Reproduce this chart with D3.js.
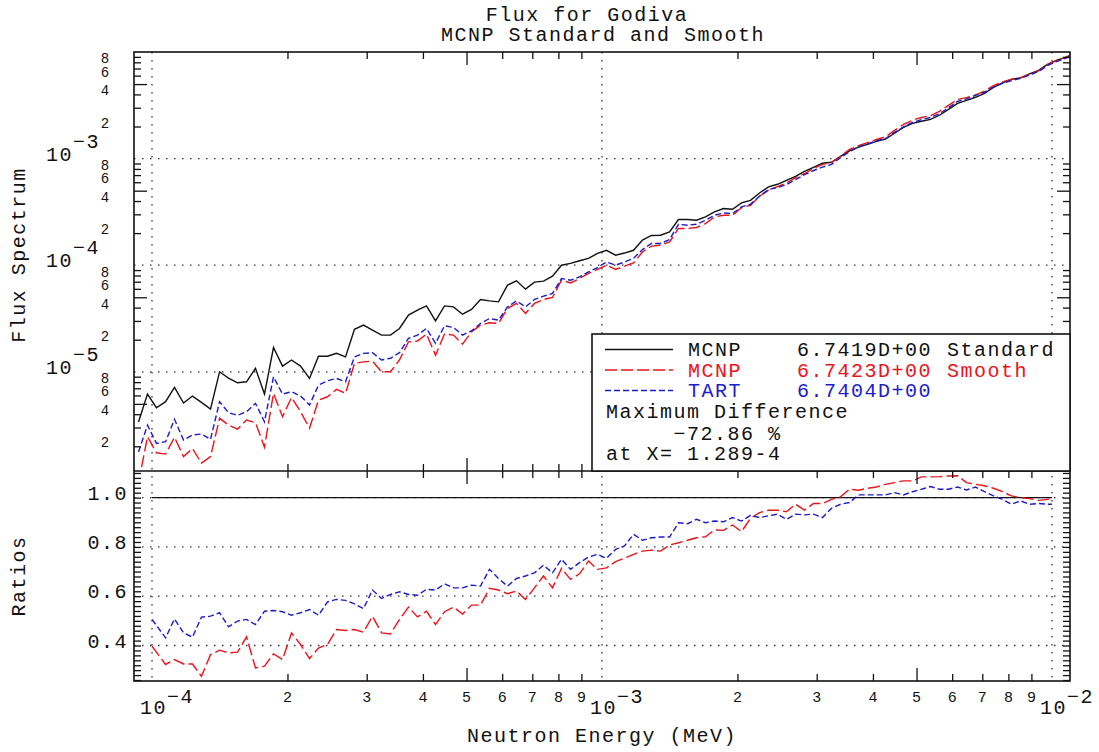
<!doctype html>
<html>
<head>
<script src="https://cdn.jsdelivr.net/npm/d3@7/dist/d3.min.js"></script>
<style>
body{margin:0;background:#fff}
text{font-family:"Liberation Mono","DejaVu Sans Mono",monospace;fill:#111}
.big{font-size:20px;letter-spacing:1.5px}
</style>
</head>
<body>
<svg width="1099" height="752"></svg>
<script>
// neutron energy (MeV), bin centres
const energy = [
  9.333e-5,9.772e-5,1.023e-4,1.072e-4,1.122e-4,1.175e-4,1.230e-4,1.288e-4,1.349e-4,1.413e-4,
  1.479e-4,1.549e-4,1.622e-4,1.698e-4,1.778e-4,1.862e-4,1.950e-4,2.042e-4,2.138e-4,2.239e-4,
  2.344e-4,2.455e-4,2.570e-4,2.692e-4,2.818e-4,2.951e-4,3.090e-4,3.236e-4,3.388e-4,3.548e-4,
  3.715e-4,3.890e-4,4.074e-4,4.266e-4,4.467e-4,4.677e-4,4.898e-4,5.129e-4,5.370e-4,5.623e-4,
  5.888e-4,6.166e-4,6.457e-4,6.761e-4,7.079e-4,7.413e-4,7.762e-4,8.128e-4,8.511e-4,8.913e-4,
  9.333e-4,9.772e-4,1.023e-3,1.072e-3,1.122e-3,1.175e-3,1.230e-3,1.288e-3,1.349e-3,1.413e-3,
  1.479e-3,1.549e-3,1.622e-3,1.698e-3,1.778e-3,1.862e-3,1.950e-3,2.042e-3,2.138e-3,2.239e-3,
  2.344e-3,2.455e-3,2.570e-3,2.692e-3,2.818e-3,2.951e-3,3.090e-3,3.236e-3,3.388e-3,3.548e-3,
  3.715e-3,3.890e-3,4.074e-3,4.266e-3,4.467e-3,4.677e-3,4.898e-3,5.129e-3,5.370e-3,5.623e-3,
  5.888e-3,6.166e-3,6.457e-3,6.761e-3,7.079e-3,7.413e-3,7.762e-3,8.128e-3,8.511e-3,8.913e-3,
  9.333e-3,9.772e-3,1.023e-2,1.072e-2,1.122e-2];

const fluxStandard = [
  3.38e-6,6.18e-6,4.60e-6,5.24e-6,7.14e-6,5.09e-6,5.92e-6,5.17e-6,4.47e-6,1.00e-5,
  8.73e-6,7.89e-6,8.06e-6,1.08e-5,6.18e-6,1.69e-5,1.13e-5,1.29e-5,1.13e-5,8.67e-6,
  1.40e-5,1.40e-5,1.49e-5,1.38e-5,2.50e-5,2.74e-5,2.46e-5,2.21e-5,2.21e-5,2.55e-5,
  3.40e-5,3.79e-5,4.15e-5,3.01e-5,4.15e-5,4.06e-5,3.47e-5,3.85e-5,4.77e-5,4.63e-5,
  4.53e-5,6.50e-5,7.13e-5,5.96e-5,6.93e-5,7.08e-5,7.89e-5,1.00e-4,1.04e-4,1.10e-4,
  1.16e-4,1.29e-4,1.38e-4,1.24e-4,1.30e-4,1.38e-4,1.72e-4,1.90e-4,1.91e-4,2.05e-4,
  2.68e-4,2.68e-4,2.64e-4,2.84e-4,3.16e-4,3.40e-4,3.35e-4,3.84e-4,4.06e-4,4.76e-4,
  5.42e-4,5.74e-4,6.26e-4,6.82e-4,7.60e-4,8.28e-4,9.04e-4,9.23e-4,1.05e-3,1.18e-3,
  1.28e-3,1.36e-3,1.45e-3,1.52e-3,1.73e-3,1.96e-3,2.14e-3,2.24e-3,2.33e-3,2.55e-3,
  2.90e-3,3.30e-3,3.52e-3,3.76e-3,4.09e-3,4.66e-3,5.13e-3,5.53e-3,5.72e-3,6.24e-3,
  6.73e-3,7.66e-3,8.34e-3,8.90e-3,9.70e-3];

const fluxSmooth = [
  9.1e-7,2.46e-6,1.74e-6,1.69e-6,2.43e-6,1.60e-6,1.91e-6,1.39e-6,1.60e-6,3.66e-6,
  3.16e-6,2.90e-6,3.53e-6,3.33e-6,1.96e-6,6.28e-6,3.79e-6,5.75e-6,4.22e-6,2.95e-6,
  5.43e-6,5.83e-6,6.84e-6,6.28e-6,1.20e-5,1.24e-5,1.26e-5,1.00e-5,1.00e-5,1.29e-5,
  1.91e-5,1.94e-5,2.26e-5,1.43e-5,2.26e-5,2.21e-5,1.82e-5,2.37e-5,2.74e-5,2.88e-5,
  2.84e-5,3.93e-5,4.38e-5,3.53e-5,4.38e-5,4.77e-5,4.98e-5,7.23e-5,6.82e-5,7.50e-5,
  8.36e-5,9.12e-5,1.00e-4,9.12e-5,9.79e-5,1.05e-4,1.33e-4,1.51e-4,1.54e-4,1.65e-4,
  2.21e-4,2.21e-4,2.26e-4,2.46e-4,2.84e-4,2.94e-4,2.94e-4,3.47e-4,3.65e-4,4.43e-4,
  5.05e-4,5.45e-4,5.90e-4,6.64e-4,7.21e-4,8.08e-4,8.82e-4,9.17e-4,1.05e-3,1.22e-3,
  1.32e-3,1.41e-3,1.51e-3,1.60e-3,1.84e-3,2.09e-3,2.29e-3,2.43e-3,2.53e-3,2.77e-3,
  3.16e-3,3.59e-3,3.73e-3,3.96e-3,4.29e-3,4.84e-3,5.25e-3,5.57e-3,5.72e-3,6.22e-3,
  6.66e-3,7.61e-3,8.32e-3,8.90e-3,9.70e-3];

const fluxTart = [
  1.77e-6,3.16e-6,2.13e-6,2.21e-6,3.58e-6,2.29e-6,2.55e-6,2.61e-6,2.32e-6,5.24e-6,
  4.13e-6,3.90e-6,4.22e-6,5.06e-6,3.40e-6,8.98e-6,6.18e-6,6.50e-6,5.92e-6,4.88e-6,
  7.50e-6,8.24e-6,8.67e-6,8.06e-6,1.38e-5,1.49e-5,1.51e-5,1.29e-5,1.34e-5,1.51e-5,
  2.06e-5,2.21e-5,2.55e-5,1.85e-5,2.70e-5,2.61e-5,2.21e-5,2.42e-5,2.84e-5,3.16e-5,
  3.05e-5,4.06e-5,4.63e-5,4.06e-5,4.77e-5,5.12e-5,5.43e-5,7.50e-5,7.23e-5,7.77e-5,
  8.65e-5,9.51e-5,1.07e-4,1.00e-4,1.07e-4,1.16e-4,1.40e-4,1.60e-4,1.60e-4,1.74e-4,
  2.42e-4,2.37e-4,2.42e-4,2.64e-4,2.94e-4,3.09e-4,3.05e-4,3.52e-4,3.73e-4,4.43e-4,
  5.12e-4,5.36e-4,5.71e-4,6.36e-4,7.07e-4,7.73e-4,8.31e-4,8.83e-4,1.02e-3,1.16e-3,
  1.29e-3,1.37e-3,1.47e-3,1.54e-3,1.76e-3,1.98e-3,2.19e-3,2.32e-3,2.43e-3,2.64e-3,
  3.00e-3,3.44e-3,3.63e-3,3.92e-3,4.19e-3,4.69e-3,5.09e-3,5.38e-3,5.65e-3,6.07e-3,
  6.57e-3,7.45e-3,8.13e-3,8.70e-3,9.50e-3];

// ratios are drawn from 1e-4 to 1e-2
const ratioEnergy = [1e-4, ...energy.slice(3, 102), 1e-2];

const ratioSmooth = [0.397,
  .323,.343,.325,.325,.275,.363,.381,.370,.373,.435,
  .309,.316,.366,.343,.451,.404,.347,.390,.404,.465,
  .461,.465,.454,.519,.451,.447,.506,.556,.516,.539,
  .485,.537,.556,.528,.564,.564,.632,.625,.610,.621,
  .587,.634,.682,.634,.713,.668,.691,.743,.709,.715,
  .740,.754,.770,.783,.787,.783,.808,.817,.827,.837,
  .841,.869,.867,.889,.862,.916,.939,.949,.949,.943,
  .973,.949,.976,.976,.993,1.003,1.034,1.030,1.038,1.043,
  1.054,1.061,1.068,1.068,1.084,1.084,1.085,1.088,1.089,1.061,
  1.054,1.048,1.038,1.024,1.007,1.000,.996,.989,.993,
  .998];

const ratioTart = [0.506,
  .431,.508,.451,.434,.515,.519,.533,.476,.499,.506,
  .485,.539,.542,.537,.523,.533,.546,.523,.577,.587,
  .583,.569,.550,.625,.591,.607,.618,.607,.604,.628,
  .625,.650,.634,.634,.645,.641,.709,.672,.641,.672,
  .682,.695,.726,.695,.750,.709,.736,.759,.770,.754,
  .790,.804,.851,.827,.837,.840,.840,.898,.894,.912,
  .898,.905,.902,.919,.905,.928,.919,.926,.933,.912,
  .933,.930,.933,.919,.957,.973,.980,1.011,1.011,1.011,
  1.011,1.020,1.011,1.024,1.034,1.045,1.034,1.034,1.043,1.031,
  1.043,1.024,1.007,.993,.973,.987,.973,.976,.973,
  .973];

const legendNames = ["MCNP", "MCNP", "TART"];
const legendValues = ["6.7419D+00", "6.7423D+00", "6.7404D+00"];
const legendTags = ["Standard", "Smooth", ""];
const legendInfo = ["Maximum Difference", "     \u221272.86 %", "at X= 1.289-4"];
const ratioLabels = [0.4, 0.6, 0.8, 1.0];

const colors = ["#111", "#e8141c", "#1c1cc8"];
const dashes = [null, "12,4", "6,3"];

var svg = d3.select("svg"),
    pLeft = 134, pRight = 1070, pTop = 52, pMid = 471, pBottom = 681;

const x = d3.scaleLog().domain([Math.pow(10, -4.04), Math.pow(10, -1.96)]).range([pLeft, pRight]);
const y = d3.scaleLog().domain([1.173e-6, 1e-2]).range([pMid, pTop]);
const yr = d3.scaleLinear().domain([0.256, 1.108]).range([pBottom, pMid]);

const defs = svg.append("defs");
defs.append("clipPath").attr("id", "cu").append("rect")
  .attr("x", pLeft).attr("y", pTop).attr("width", pRight - pLeft).attr("height", pMid - pTop);
defs.append("clipPath").attr("id", "cl").append("rect")
  .attr("x", pLeft).attr("y", pMid).attr("width", pRight - pLeft).attr("height", pBottom - pMid);

const dot = "1.5,6.5";
const decadesX = [1e-4, 1e-3, 1e-2];
const decadesY = [1e-5, 1e-4, 1e-3];

// grid
svg.append("g").selectAll("line").data(decadesX).enter().append("line")
  .attr("x1", d => x(d)).attr("x2", d => x(d)).attr("y1", pTop).attr("y2", pBottom)
  .attr("stroke", "#333").attr("stroke-width", 1.3).attr("stroke-dasharray", dot);
svg.append("g").selectAll("line").data(decadesY).enter().append("line")
  .attr("x1", pLeft).attr("x2", pRight).attr("y1", d => y(d)).attr("y2", d => y(d))
  .attr("stroke", "#333").attr("stroke-width", 1.3).attr("stroke-dasharray", dot);
svg.append("g").selectAll("line").data(ratioLabels).enter().append("line")
  .attr("x1", pLeft).attr("x2", pRight).attr("y1", d => yr(d)).attr("y2", d => yr(d))
  .attr("stroke", "#333").attr("stroke-width", 1.3).attr("stroke-dasharray", dot);

// unity line
svg.append("line")
  .attr("x1", x(1e-4)).attr("x2", x(1e-2)).attr("y1", yr(1)).attr("y2", yr(1))
  .attr("stroke", "#111").attr("stroke-width", 1.3);

// flux curves
const fluxLine = d3.line().x((d, i) => x(energy[i])).y(d => y(d));
[fluxStandard, fluxSmooth, fluxTart].forEach((s, k) => {
  svg.append("path").datum(s).attr("d", fluxLine).attr("clip-path", "url(#cu)")
    .attr("fill", "none").attr("stroke", colors[k]).attr("stroke-width", 1.4)
    .attr("stroke-dasharray", dashes[k]);
});

// ratio curves
const ratioLine = d3.line().x((d, i) => x(ratioEnergy[i])).y(d => yr(d));
[ratioSmooth, ratioTart].forEach((s, k) => {
  svg.append("path").datum(s).attr("d", ratioLine).attr("clip-path", "url(#cl)")
    .attr("fill", "none").attr("stroke", colors[k + 1]).attr("stroke-width", 1.4)
    .attr("stroke-dasharray", dashes[k + 1]);
});

// frames
svg.append("rect").attr("x", pLeft).attr("y", pTop).attr("width", pRight - pLeft).attr("height", pBottom - pTop)
  .attr("fill", "none").attr("stroke", "#111").attr("stroke-width", 1.6);
svg.append("line").attr("x1", pLeft).attr("x2", pRight).attr("y1", pMid).attr("y2", pMid)
  .attr("stroke", "#111").attr("stroke-width", 1.6);

// ticks
const mant = [2, 3, 4, 5, 6, 7, 8, 9];
const lead = d => Math.round(d / Math.pow(10, Math.floor(Math.log10(d) + 1e-9)));
const xMinor = [1e-4, 1e-3].flatMap(d => mant.map(m => m * d));
const yMinor = [1e-6, 1e-5, 1e-4, 1e-3].flatMap(d => mant.map(m => m * d))
  .filter(v => v > 1.173e-6);
const rMinor = d3.range(13, 56).map(k => k * 0.02);

function ticks(axis, tx, ty, vals, sign, horiz, longFives) {
  const g = svg.append("g").attr("transform", "translate(" + tx + "," + ty + ")")
    .call(axis.tickValues(vals).tickSize(7).tickFormat(""));
  g.select(".domain").remove();
  g.selectAll(".tick line").attr("stroke", "#111").attr("stroke-width", 1.3)
    .attr(horiz ? "x2" : "y2", d => sign * (longFives && lead(d) === 5 ? 13 : 7));
}
ticks(d3.axisBottom(x), 0, pTop, xMinor, 1, false, true);
ticks(d3.axisTop(x), 0, pMid, xMinor, -1, false, true);
ticks(d3.axisBottom(x), 0, pMid, xMinor, 1, false, true);
ticks(d3.axisTop(x), 0, pBottom, xMinor, -1, false, true);
ticks(d3.axisRight(y), pLeft, 0, yMinor, 1, true, true);
ticks(d3.axisLeft(y), pRight, 0, yMinor, -1, true, true);
ticks(d3.axisRight(yr), pLeft, 0, rMinor, 1, true, false);
ticks(d3.axisLeft(yr), pRight, 0, rMinor, -1, true, false);

// tick labels
function power(px, py, exp, dy) {
  const t = svg.append("text").attr("class", "big").attr("x", px).attr("y", py);
  t.append("tspan").text("10");
  t.append("tspan").attr("dy", dy).text("\u2212" + exp);
}
decadesY.forEach(d => power(46, y(d) + 2, -Math.round(Math.log10(d)), -13));
decadesX.forEach(d => power(x(d) - 12, 714, -Math.round(Math.log10(d)), -11));

svg.append("g").selectAll("text").data(yMinor.filter(v => [2, 4, 6, 8].includes(lead(v))))
  .enter().append("text")
  .attr("x", 105).attr("y", d => y(d) + 1).attr("text-anchor", "middle")
  .style("font-size", "14px").text(lead);

svg.append("g").selectAll("text").data(xMinor).enter().append("text")
  .attr("x", d => x(d)).attr("y", 702).attr("text-anchor", "middle")
  .style("font-size", "15px").text(lead);

svg.append("g").selectAll("text").data(ratioLabels).enter().append("text")
  .attr("class", "big").attr("x", 128).attr("y", d => yr(d) + 2).attr("text-anchor", "end")
  .text(d => d3.format(".1f")(d));

// titles
svg.append("text").attr("class", "big").attr("x", 587).attr("y", 21).attr("text-anchor", "middle").text("Flux for Godiva");
svg.append("text").attr("class", "big").attr("x", 603).attr("y", 41).attr("text-anchor", "middle").text("MCNP Standard and Smooth");
svg.append("text").attr("class", "big").attr("x", 602).attr("y", 742).attr("text-anchor", "middle").text("Neutron Energy (MeV)");
svg.append("text").attr("class", "big").attr("transform", "translate(25,255) rotate(-90)").attr("text-anchor", "middle").text("Flux Spectrum");
svg.append("text").attr("class", "big").attr("transform", "translate(25,576) rotate(-90)").attr("text-anchor", "middle").text("Ratios");

// legend
const lg = svg.append("g");
lg.append("rect").attr("x", 592).attr("y", 334).attr("width", pRight - 592).attr("height", pMid - 334)
  .attr("fill", "#fff").attr("stroke", "#111").attr("stroke-width", 1.6);
const rowY = [349.5, 370, 390.5];
legendNames.forEach((n, k) => {
  lg.append("line").attr("x1", 605).attr("x2", 673).attr("y1", rowY[k]).attr("y2", rowY[k])
    .attr("stroke", colors[k]).attr("stroke-width", 1.4).attr("stroke-dasharray", dashes[k]);
  lg.append("text").attr("class", "big").attr("x", 688).attr("y", rowY[k] + 6.5).style("fill", colors[k]).text(n);
  lg.append("text").attr("class", "big").attr("x", 797).attr("y", rowY[k] + 6.5).style("fill", colors[k]).text(legendValues[k]);
  lg.append("text").attr("class", "big").attr("x", 947).attr("y", rowY[k] + 6.5).style("fill", colors[k]).text(legendTags[k]);
});
const infoY = [418, 440, 460];
legendInfo.forEach((t, k) => {
  lg.append("text").attr("class", "big").attr("x", 606).attr("y", infoY[k])
    .style("white-space", "pre").text(t);
});
</script>
</body>
</html>
